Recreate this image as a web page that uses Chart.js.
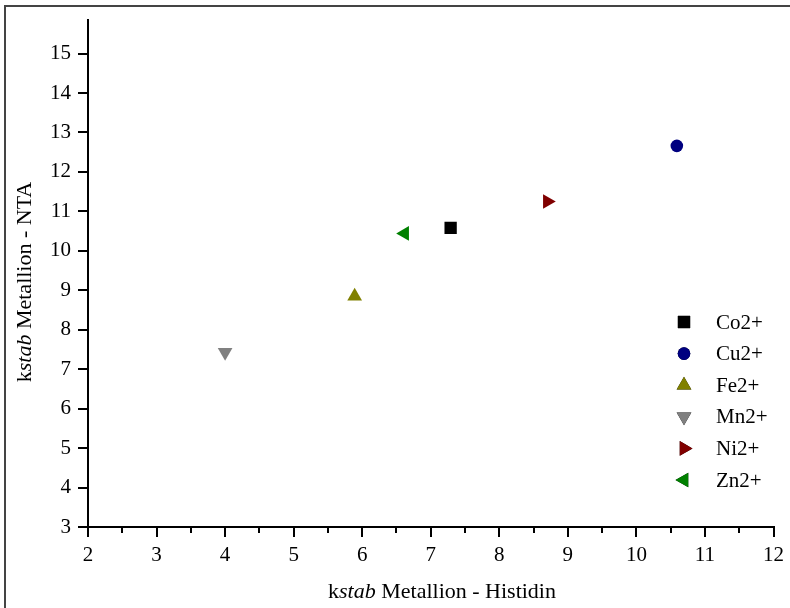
<!DOCTYPE html>
<html>
<head>
<meta charset="utf-8">
<script src="https://cdn.jsdelivr.net/npm/chart.js@4/dist/chart.umd.min.js"></script>
<style>
  html, body { margin: 0; padding: 0; background: #fff; }
  #wrap { position: relative; width: 790px; height: 608px; }
</style>
</head>
<body>
<div id="wrap"><canvas id="chart" width="790" height="608"></canvas></div>
<script>
const metals = ['Co2+', 'Cu2+', 'Fe2+', 'Mn2+', 'Ni2+', 'Zn2+'];
const histidin = [7.29, 10.59, 5.89, 4.0, 8.70, 6.62];
const nta = [10.58, 12.66, 8.85, 7.43, 11.25, 10.44];
const colors = ['#000000', '#000080', '#808000', '#808080', '#800000', '#008000'];
const shapes = ['rect', 'circle', 'triangle', 'triangle', 'triangle', 'triangle'];
const rotations = [0, 0, 0, 180, 90, 270];
const radii = [8.7, 6.3, 8.5, 8.5, 8.5, 8.5];

const FONT = '"Liberation Serif", "Times New Roman", serif';

const datasets = metals.map((m, i) => ({
    label: m,
    data: [{ x: histidin[i], y: nta[i] }],
    backgroundColor: colors[i],
    borderColor: colors[i],
    borderWidth: 0,
    pointStyle: shapes[i],
    rotation: rotations[i],
    pointRadius: radii[i],
    pointHoverRadius: radii[i]
}));

// minor ticks on x, frame, legend and mixed-style axis titles
const extras = {
    id: 'extras',
    afterDraw(chart) {
        const ctx = chart.ctx;
        const xs = chart.scales.x;
        const area = chart.chartArea;
        ctx.save();

        // frame around the figure
        ctx.strokeStyle = '#444';
        ctx.lineWidth = 2;
        ctx.beginPath();
        ctx.moveTo(5, 608);
        ctx.lineTo(5, 6);
        ctx.lineTo(790, 6);
        ctx.stroke();

        // minor ticks
        ctx.strokeStyle = '#000';
        ctx.lineWidth = 2;
        for (let v = 2.5; v < 12; v += 1) {
            const px = Math.round(xs.getPixelForValue(v));
            ctx.beginPath();
            ctx.moveTo(px, area.bottom);
            ctx.lineTo(px, area.bottom + 6);
            ctx.stroke();
        }

        // legend
        chart.data.datasets.forEach((ds, i) => {
            const y = 322 + i * 31.6;
            Chart.helpers.drawPoint(ctx, {
                pointStyle: ds.pointStyle,
                rotation: ds.rotation,
                radius: ds.pointRadius,
                borderWidth: 0
            }, 684, y);
            ctx.fillStyle = ds.backgroundColor;
            ctx.fill();
            ctx.fillStyle = '#000';
            ctx.font = '21px ' + FONT;
            ctx.textBaseline = 'middle';
            ctx.textAlign = 'left';
            ctx.fillText(ds.label, 716, y + 1);
        });

        // axis titles with italic "stab"
        const drawTitle = (parts, cx, cy, rot) => {
            ctx.save();
            ctx.translate(cx, cy);
            ctx.rotate(rot);
            let total = 0;
            parts.forEach(p => {
                ctx.font = (p[1] ? 'italic ' : '') + '22px ' + FONT;
                total += ctx.measureText(p[0]).width;
            });
            let x = -total / 2;
            ctx.fillStyle = '#000';
            ctx.textBaseline = 'alphabetic';
            ctx.textAlign = 'left';
            parts.forEach(p => {
                ctx.font = (p[1] ? 'italic ' : '') + '22px ' + FONT;
                ctx.fillText(p[0], x, 0);
                x += ctx.measureText(p[0]).width;
            });
            ctx.restore();
        };
        drawTitle([['k', false], ['stab', true], [' Metallion - Histidin', false]], 442, 598, 0);
        drawTitle([['k', false], ['stab', true], [' Metallion - NTA', false]], 31, 282, -Math.PI / 2);

        ctx.restore();
    }
};

new Chart(document.getElementById('chart'), {
    type: 'scatter',
    data: { datasets: datasets },
    options: {
        responsive: false,
        animation: false,
        events: [],
        layout: { padding: { left: 0, top: 20, right: 15, bottom: 0 } },
        plugins: {
            legend: { display: false },
            tooltip: { enabled: false }
        },
        scales: {
            x: {
                type: 'linear',
                min: 2,
                max: 12,
                afterFit: s => { s.height = 81; },
                border: { display: true, color: '#000', width: 2 },
                grid: { drawOnChartArea: false, drawTicks: true, tickLength: 10, color: '#000', lineWidth: 2 },
                ticks: {
                    stepSize: 1,
                    includeBounds: false,
                    color: '#000',
                    padding: 6,
                    font: { family: FONT, size: 21 }
                }
            },
            y: {
                type: 'linear',
                min: 3,
                max: 15.85,
                afterFit: s => { s.width = 88; },
                border: { display: true, color: '#000', width: 2 },
                grid: { drawOnChartArea: false, drawTicks: true, tickLength: 10, color: '#000', lineWidth: 2 },
                ticks: {
                    stepSize: 1,
                    includeBounds: false,
                    color: '#000',
                    padding: 7,
                    font: { family: FONT, size: 21 }
                }
            }
        }
    },
    plugins: [extras]
});
</script>
</body>
</html>
